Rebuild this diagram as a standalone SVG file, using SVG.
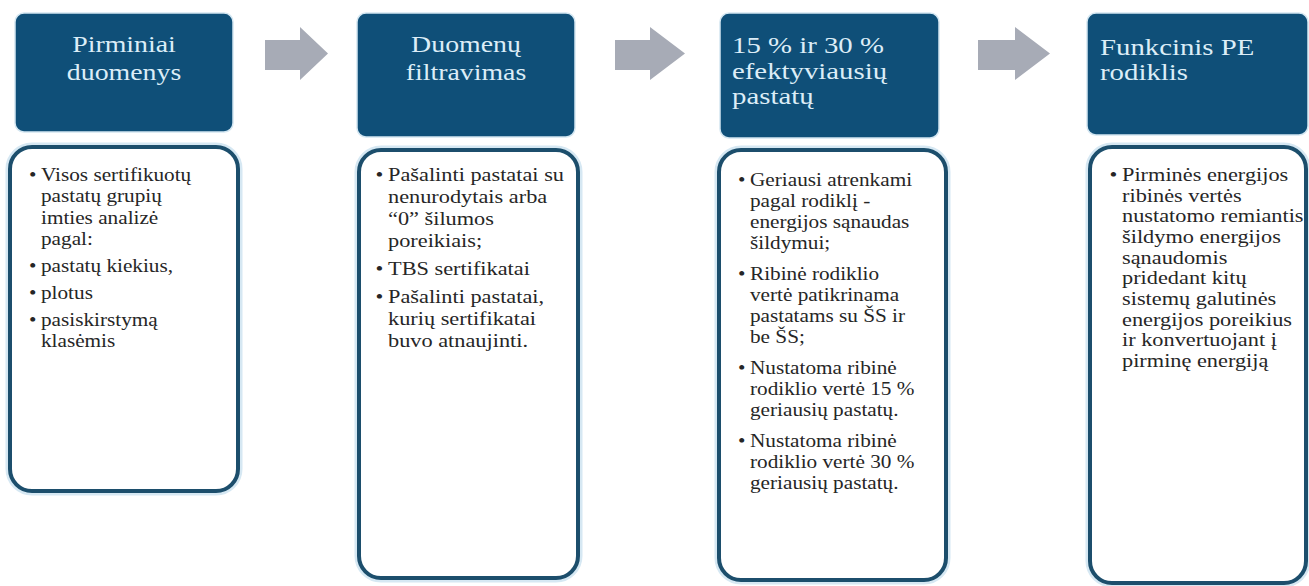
<svg xmlns="http://www.w3.org/2000/svg" width="1309" height="586" viewBox="0 0 1309 586">
  <style>
    .hdr { fill: #0f4f78; stroke: #d3e6f1; stroke-width: 1.5; }
    .htxt { font-size: 24px; fill: #dcedf7; }
    .glow { fill: none; stroke: #d6e8f3; stroke-width: 9; }
    .body { fill: #ffffff; stroke: #1c4e6c; stroke-width: 4; }
    .btxt { font-size: 18px; fill: #262626; }
    .bul { text-anchor: middle; }
    .arrow { fill: #a7abb6; }
  </style>

  <g id="connectors">
    <polygon class="arrow" points="265,40 300,40 300,27 328,53.5 300,80 300,70 265,70"/>
    <polygon class="arrow" points="615,40 650,40 650,27 685,53.5 650,80 650,70 615,70"/>
    <polygon class="arrow" points="978,40 1015,40 1015,27 1050,53.5 1015,80 1015,70 978,70"/>
  </g>

  <g id="node-pirminiai" font-family="Liberation Serif, Tinos, Times New Roman, Noto Serif, DejaVu Serif, FreeSerif, serif">
    <rect class="hdr" x="15" y="13" width="218" height="119" rx="9"/>
    <g transform="translate(124,0) scale(1.16,1)">
      <text class="htxt" text-anchor="middle"><tspan x="0" y="52">Pirminiai</tspan><tspan x="0" y="80">duomenys</tspan></text>
    </g>
    <rect class="glow" x="10" y="147" width="228" height="344" rx="22"/>
    <rect class="body" x="10" y="147" width="228" height="344" rx="22"/>
    <g class="btxt" transform="translate(41,0) scale(1.18,1)">
      <text class="bul" x="-7" y="181">•</text>
      <text x="0" y="181">Visos sertifikuotų</text>
      <text x="0" y="202">pastatų grupių</text>
      <text x="0" y="224">imties analizė</text>
      <text x="0" y="245">pagal:</text>
      <text class="bul" x="-7" y="272">•</text>
      <text x="0" y="272">pastatų kiekius,</text>
      <text class="bul" x="-7" y="299">•</text>
      <text x="0" y="299">plotus</text>
      <text class="bul" x="-7" y="326">•</text>
      <text x="0" y="326">pasiskirstymą</text>
      <text x="0" y="347">klasėmis</text>
    </g>
  </g>

  <g id="node-filtravimas" font-family="Liberation Serif, Tinos, Times New Roman, Noto Serif, DejaVu Serif, FreeSerif, serif">
    <rect class="hdr" x="357" y="13" width="218" height="124" rx="9"/>
    <g transform="translate(466,0) scale(1.16,1)">
      <text class="htxt" text-anchor="middle"><tspan x="0" y="52">Duomenų</tspan><tspan x="0" y="80">filtravimas</tspan></text>
    </g>
    <rect class="glow" x="359" y="150" width="219" height="428" rx="22"/>
    <rect class="body" x="359" y="150" width="219" height="428" rx="22"/>
    <g class="btxt" transform="translate(388,0) scale(1.24,1)">
      <text class="bul" x="-7" y="181">•</text>
      <text x="0" y="181">Pašalinti pastatai su</text>
      <text x="0" y="203">nenurodytais arba</text>
      <text x="0" y="225">“0” šilumos</text>
      <text x="0" y="247">poreikiais;</text>
      <text class="bul" x="-7" y="275">•</text>
      <text x="0" y="275">TBS sertifikatai</text>
      <text class="bul" x="-7" y="303">•</text>
      <text x="0" y="303">Pašalinti pastatai,</text>
      <text x="0" y="325">kurių sertifikatai</text>
      <text x="0" y="347">buvo atnaujinti.</text>
    </g>
  </g>

  <g id="node-efektyviausiu" font-family="Liberation Serif, Tinos, Times New Roman, Noto Serif, DejaVu Serif, FreeSerif, serif">
    <rect class="hdr" x="720" y="13" width="219" height="125" rx="9"/>
    <g transform="translate(732,0) scale(1.2,1)">
      <text class="htxt"><tspan x="0" y="53">15 % ir 30 %</tspan><tspan x="0" y="79">efektyviausių</tspan><tspan x="0" y="104">pastatų</tspan></text>
    </g>
    <rect class="glow" x="719" y="150" width="227" height="430" rx="22"/>
    <rect class="body" x="719" y="150" width="227" height="430" rx="22"/>
    <g class="btxt" transform="translate(750,0) scale(1.18,1)">
      <text class="bul" x="-7" y="186">•</text>
      <text x="0" y="186">Geriausi atrenkami</text>
      <text x="0" y="207">pagal rodiklį -</text>
      <text x="0" y="228">energijos sąnaudas</text>
      <text x="0" y="249">šildymui;</text>
      <text class="bul" x="-7" y="280">•</text>
      <text x="0" y="280">Ribinė rodiklio</text>
      <text x="0" y="301">vertė patikrinama</text>
      <text x="0" y="322">pastatams su ŠS ir</text>
      <text x="0" y="343">be ŠS;</text>
      <text class="bul" x="-7" y="374">•</text>
      <text x="0" y="374">Nustatoma ribinė</text>
      <text x="0" y="395">rodiklio vertė 15 %</text>
      <text x="0" y="416">geriausių pastatų.</text>
      <text class="bul" x="-7" y="447">•</text>
      <text x="0" y="447">Nustatoma ribinė</text>
      <text x="0" y="468">rodiklio vertė 30 %</text>
      <text x="0" y="489">geriausių pastatų.</text>
    </g>
  </g>

  <g id="node-funkcinis" font-family="Liberation Serif, Tinos, Times New Roman, Noto Serif, DejaVu Serif, FreeSerif, serif">
    <rect class="hdr" x="1087" y="13" width="221" height="122" rx="9"/>
    <g transform="translate(1100,0) scale(1.2,1)">
      <text class="htxt"><tspan x="0" y="55">Funkcinis PE</tspan><tspan x="0" y="80">rodiklis</tspan></text>
    </g>
    <rect class="glow" x="1090" y="147" width="216" height="436" rx="22"/>
    <rect class="body" x="1090" y="147" width="216" height="436" rx="22"/>
    <g class="btxt" transform="translate(1122,0) scale(1.24,1)">
      <text class="bul" x="-7" y="181">•</text>
      <text x="0" y="181">Pirminės energijos</text>
      <text x="0" y="202">ribinės vertės</text>
      <text x="0" y="222">nustatomo remiantis</text>
      <text x="0" y="243">šildymo energijos</text>
      <text x="0" y="264">sąnaudomis</text>
      <text x="0" y="284">pridedant kitų</text>
      <text x="0" y="305">sistemų galutinės</text>
      <text x="0" y="326">energijos poreikius</text>
      <text x="0" y="346">ir konvertuojant į</text>
      <text x="0" y="367">pirminę energiją</text>
    </g>
  </g>
</svg>
